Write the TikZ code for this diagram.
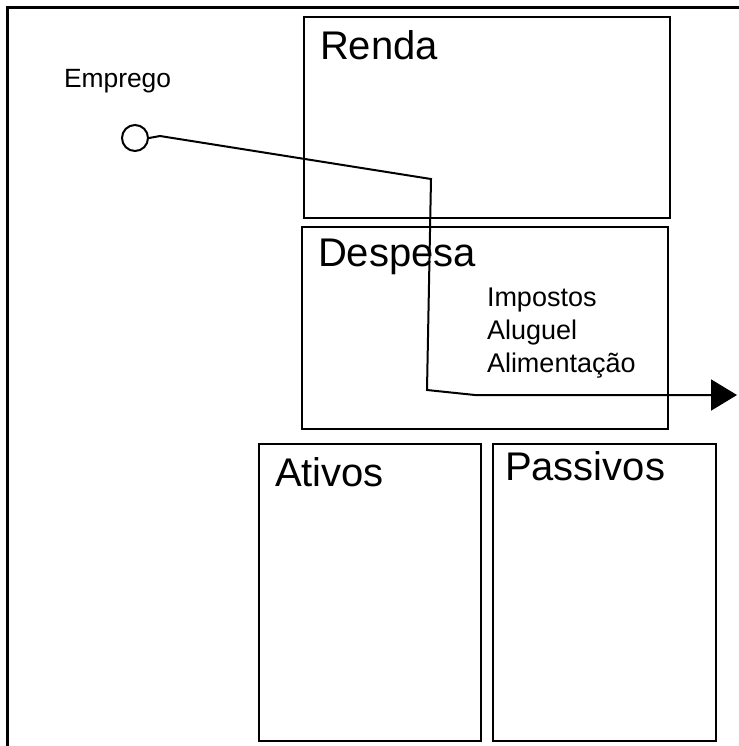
\documentclass[tikz,border=0pt]{standalone}
\usepackage{fontspec}
\setmainfont{Liberation Sans}
\usetikzlibrary{positioning,arrows.meta}

\begin{document}
\begin{tikzpicture}[x=0.5pt, y=-0.5pt, line width=1pt,
  caixa/.style={draw, rectangle, inner sep=0pt},
  titulo/.style={inner sep=0pt, font=\fontsize{20}{24}\selectfont},
  texto/.style={inner sep=0pt, align=left, font=\fontsize{13.5}{16.5}\selectfont}]
\useasboundingbox (0,0) rectangle (739,746);
% moldura
\draw[line width=1.5pt] (7,746) -- (7,7) -- (739,7);
% caixas
\node[caixa, minimum width=183pt, minimum height=100.5pt] (renda) at (487,117.5) {};
\node[caixa, minimum width=183pt, minimum height=101pt] (despesa) at (485,328) {};
\node[caixa, minimum width=111pt, minimum height=148.5pt] (ativos) at (370,592.5) {};
\node[caixa, minimum width=111.5pt, minimum height=148.5pt] (passivos) at (604.5,592.5) {};
\node[titulo, below right=7pt and 8pt of renda.north west] (trenda) {Renda};
\node[titulo, below right=6pt and 8pt of despesa.north west] (tdespesa) {Despesa};
\node[titulo, below right=7pt and 8pt of ativos.north west] (tativos) {Ativos};
\node[titulo, below right=4pt and 6pt of passivos.north west] (tpassivos) {Passivos};
\node[texto, below right=30.5pt and 92.5pt of despesa.north west] (itens) {Impostos\\Aluguel\\Alimentação};
% emprego
\node[anchor=north west, inner sep=0pt, font=\fontsize{13.2}{16}\selectfont] (rotulo) at (63,68) {Emprego};
\node[circle, draw, minimum size=13pt, inner sep=0pt] (emprego) at (135,138) {};
\coordinate (c1) at (160,136);
\coordinate (c2) at (431,179);
\coordinate (c3) at (427,390);
\coordinate (c4) at (475,395);
\coordinate (saida) at (737,395);
\draw[-{Triangle[length=13pt,width=15.5pt]}] (emprego.east) -- (c1) -- (c2) -- (c3) -- (c4) -- (saida);
\end{tikzpicture}
\end{document}
